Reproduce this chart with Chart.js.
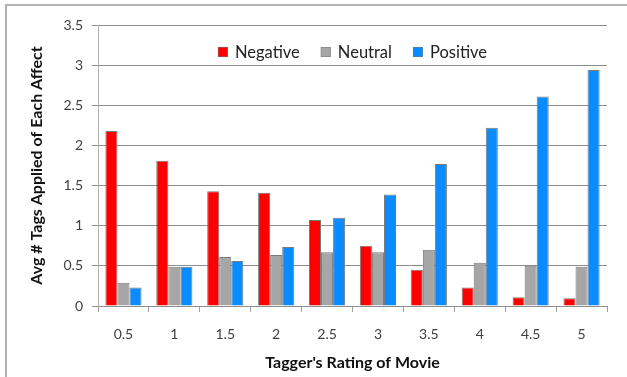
<!DOCTYPE html>
<html>
<head>
<meta charset="utf-8">
<script src="https://cdn.jsdelivr.net/npm/chart.js@4/dist/chart.umd.min.js"></script>
<style>
  html, body { margin: 0; padding: 0; background: #fff; }
  #wrap { position: relative; width: 627px; height: 377px; overflow: hidden; }
  #frame { position: absolute; left: 5px; top: 4px; width: 700px; height: 450px;
           border: 2px solid #b2b2b2; box-sizing: border-box; }
  #c { position: absolute; left: 0; top: 0; }
</style>
</head>
<body>
<div id="wrap">
  <div id="frame"></div>
  <canvas id="c" width="627" height="377"></canvas>
</div>
<script>
// Ratings given by the tagger (x categories)
const ratings = ['0.5', '1', '1.5', '2', '2.5', '3', '3.5', '4', '4.5', '5'];

// Average number of tags applied per affect type
const negative = [2.18, 1.81, 1.43, 1.41, 1.07, 0.75, 0.45, 0.23, 0.11, 0.095];
const neutral  = [0.29, 0.49, 0.61, 0.635, 0.67, 0.67, 0.70, 0.54, 0.50, 0.49];
const positive = [0.23, 0.49, 0.56, 0.735, 1.10, 1.39, 1.77, 2.22, 2.61, 2.94];

const yTicks = [0, 0.5, 1, 1.5, 2, 2.5, 3, 3.5];

const FAMILY = 'Lato, "Open Sans", sans-serif';
const tickFont = { family: FAMILY, size: 14 };
const titleFont = { family: FAMILY, size: 16, weight: 'bold' };

function series(label, data, color) {
  return {
    label, data,
    backgroundColor: color,
    borderColor: '#7a7a7a',
    borderWidth: 1,
    categoryPercentage: 0.71,
    barPercentage: 1.0
  };
}

// Horizontal legend drawn inside the plot area, near its top edge
const insideLegend = {
  id: 'insideLegend',
  afterDraw(chart) {
    const ctx = chart.ctx;
    const area = chart.chartArea;
    const box = 10, gap = 7, spacing = 21, size = 16.5;
    ctx.save();
    ctx.font = `${size}px ${FAMILY}`;
    const items = chart.data.datasets.map(ds => ({
      label: ds.label, fill: ds.backgroundColor, stroke: ds.borderColor,
      w: box + gap + ctx.measureText(ds.label).width
    }));
    const total = items.reduce((s, it) => s + it.w, 0) + spacing * (items.length - 1);
    let x = (area.left + area.right) / 2 - total / 2;
    const cy = area.top + 27;
    ctx.textBaseline = 'middle';
    ctx.textAlign = 'left';
    items.forEach(it => {
      ctx.fillStyle = it.fill;
      ctx.fillRect(x, cy - box / 2, box, box);
      ctx.strokeStyle = it.stroke;
      ctx.lineWidth = 0.5;
      ctx.strokeRect(x + 0.25, cy - box / 2 + 0.25, box - 0.5, box - 0.5);
      ctx.fillStyle = '#222';
      ctx.fillText(it.label, x + box + gap, cy + 1);
      x += it.w + spacing;
    });
    ctx.restore();
  }
};

new Chart(document.getElementById('c'), {
  type: 'bar',
  data: {
    labels: ratings,
    datasets: [
      series('Negative', negative, '#ff0000'),
      series('Neutral', neutral, '#a6a6a6'),
      series('Positive', positive, '#0a8cff')
    ]
  },
  plugins: [insideLegend],
  options: {
    responsive: false,
    animation: false,
    layout: { padding: { top: 25, right: 20, left: 0, bottom: 0 } },
    plugins: {
      tooltip: { enabled: false },
      legend: { display: false }
    },
    scales: {
      x: {
        grid: {
          display: true,
          offset: true,
          drawOnChartArea: false,
          drawTicks: true,
          tickLength: 6,
          color: '#a0a0a0'
        },
        border: { display: true, color: '#909090' },
        ticks: { color: '#404040', font: tickFont, padding: 14 },
        title: {
          display: true,
          text: "Tagger's Rating of Movie",
          color: '#111',
          font: titleFont,
          padding: { top: 4, bottom: 5 }
        },
        afterFit(scale) { scale.height = 71; }
      },
      y: {
        min: 0,
        max: 3.5,
        afterBuildTicks(scale) { scale.ticks = yTicks.map(v => ({ value: v })); },
        grid: {
          color: '#8c8c8c',
          tickLength: 6,
          drawTicks: true
        },
        border: { display: true, color: '#b0b0b0' },
        ticks: {
          color: '#404040',
          font: tickFont,
          padding: 9,
          callback: v => String(v)
        },
        title: {
          display: true,
          text: 'Avg # Tags Applied of Each Affect',
          color: '#111',
          font: titleFont,
          padding: { top: 27, bottom: 4 }
        },
        afterFit(scale) { scale.width = 98; }
      }
    }
  }
});
</script>
</body>
</html>
